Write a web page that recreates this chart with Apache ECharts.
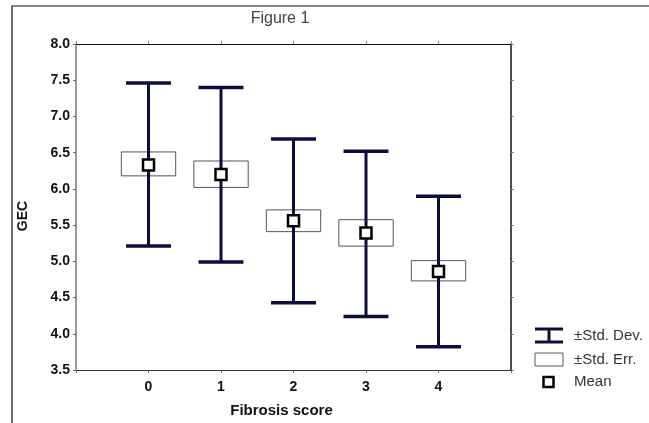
<!DOCTYPE html>
<html>
<head>
<meta charset="utf-8">
<script src="https://cdn.jsdelivr.net/npm/echarts@6/dist/echarts.min.js"></script>
<style>html,body{margin:0;padding:0;background:#fff;}#c{width:649px;height:423px;}</style>
</head>
<body>
<div id="c"></div>
<script>
var categories = [0, 1, 2, 3, 4];
var means  = [6.33, 6.20, 5.56, 5.39, 4.86];
var seLow  = [6.18, 6.02, 5.41, 5.21, 4.73];
var seHigh = [6.51, 6.385, 5.71, 5.575, 5.01];
var sdLow  = [5.21, 4.99, 4.43, 4.24, 3.82];
var sdHigh = [7.46, 7.40, 6.69, 6.52, 5.90];
var yTicks = [3.5, 4.0, 4.5, 5.0, 5.5, 6.0, 6.5, 7.0, 7.5, 8.0];

var FONT = 'Liberation Sans, Arial, sans-serif';
var NAVY = '#0d0d3d';

var data = categories.map(function (c, i) {
  return [c, means[i], seLow[i], seHigh[i], sdLow[i], sdHigh[i]];
});

function renderItem(params, api) {
  var x = api.value(0);
  var pM = api.coord([x, api.value(1)]);
  var pSeL = api.coord([x, api.value(2)]);
  var pSeH = api.coord([x, api.value(3)]);
  var pSdL = api.coord([x, api.value(4)]);
  var pSdH = api.coord([x, api.value(5)]);
  var boxHalf = api.size([0.375, 0])[0];
  var capHalf = api.size([0.31, 0])[0];
  var sq = 11;
  return {
    type: 'group',
    children: [
      { type: 'rect', shape: { x: pM[0] - boxHalf, y: pSeH[1], width: boxHalf * 2, height: pSeL[1] - pSeH[1] },
        style: { fill: '#fff', stroke: '#555', lineWidth: 1 } },
      { type: 'line', shape: { x1: pM[0], y1: pSdH[1], x2: pM[0], y2: pSdL[1] },
        style: { stroke: NAVY, lineWidth: 3 } },
      { type: 'line', shape: { x1: pM[0] - capHalf, y1: pSdH[1], x2: pM[0] + capHalf, y2: pSdH[1] },
        style: { stroke: NAVY, lineWidth: 3.5 } },
      { type: 'line', shape: { x1: pM[0] - capHalf, y1: pSdL[1], x2: pM[0] + capHalf, y2: pSdL[1] },
        style: { stroke: NAVY, lineWidth: 3.5 } },
      { type: 'rect', shape: { x: pM[0] - sq / 2, y: pM[1] - sq / 2, width: sq, height: sq },
        style: { fill: '#fff', stroke: '#000', lineWidth: 2.5 } }
    ]
  };
}

var chart = echarts.init(document.getElementById('c'));
chart.setOption({
  animation: false,
  backgroundColor: '#fff',
  grid: { left: 76, right: 138, top: 44, bottom: 53, containLabel: false },
  xAxis: [{
    type: 'value', min: -1, max: 5, interval: 1,
    name: 'Fibrosis score', nameLocation: 'middle', nameGap: 33,
    nameTextStyle: { fontFamily: FONT, fontSize: 15, fontWeight: 'bold', color: '#111', padding: [0, 24, 0, 0] },
    axisLine: { onZero: false, lineStyle: { color: '#333', width: 1 } },
    axisTick: { show: true, length: 3, lineStyle: { color: '#666' } },
    splitLine: { show: false },
    axisLabel: {
      margin: 10, fontFamily: FONT, fontSize: 14, fontWeight: 'bold', color: '#111',
      formatter: function (v) { return categories.indexOf(v) >= 0 ? String(v) : ''; }
    }
  }, {
    type: 'value', position: 'top', min: -1, max: 5, interval: 1,
    axisLine: { onZero: false, lineStyle: { color: '#111', width: 1 } },
    axisTick: { show: true, length: 3, lineStyle: { color: '#888' } },
    axisLabel: { show: false }, splitLine: { show: false }
  }],
  yAxis: [{
    type: 'value', min: yTicks[0], max: yTicks[yTicks.length - 1], interval: 0.5,
    name: 'GEC', nameLocation: 'middle', nameGap: 46, nameRotate: 90,
    nameTextStyle: { fontFamily: FONT, fontSize: 14, fontWeight: 'bold', color: '#111', padding: [0, 0, 0, -18] },
    axisLine: { show: true, onZero: false, lineStyle: { color: '#777', width: 1.5 } },
    axisTick: { show: true, length: 3, lineStyle: { color: '#666' } },
    splitLine: { show: false },
    axisLabel: {
      margin: 6, fontFamily: FONT, fontSize: 14, fontWeight: 'bold', color: '#111',
      formatter: function (v) { return v.toFixed(1); }
    }
  }, {
    type: 'value', position: 'right', min: yTicks[0], max: yTicks[yTicks.length - 1], interval: 0.5,
    axisLine: { show: true, onZero: false, lineStyle: { color: '#111', width: 1.5 } },
    axisTick: { show: true, length: 3, lineStyle: { color: '#888' } },
    axisLabel: { show: false }, splitLine: { show: false }
  }],
  series: [{
    type: 'custom',
    renderItem: renderItem,
    encode: { x: 0, y: [1, 2, 3, 4, 5] },
    data: data,
    clip: false
  }],
  graphic: [
    { type: 'rect', silent: true, shape: { x: 12, y: 6, width: 700, height: 500 },
      style: { fill: 'none', stroke: '#111', lineWidth: 1.2 } },
    { type: 'text', x: 280, y: 19, style: { text: 'Figure 1', fontFamily: FONT, fontSize: 16, fill: '#444', align: 'center', verticalAlign: 'middle' } },
    // legend: Std. Dev.
    { type: 'line', shape: { x1: 535, y1: 329, x2: 563, y2: 329 }, style: { stroke: NAVY, lineWidth: 3 } },
    { type: 'line', shape: { x1: 535, y1: 342, x2: 563, y2: 342 }, style: { stroke: NAVY, lineWidth: 3 } },
    { type: 'line', shape: { x1: 549, y1: 329, x2: 549, y2: 342 }, style: { stroke: NAVY, lineWidth: 3 } },
    { type: 'text', x: 574, y: 336, style: { text: '±Std. Dev.', fontFamily: FONT, fontSize: 15, fill: '#333', verticalAlign: 'middle' } },
    // legend: Std. Err.
    { type: 'rect', shape: { x: 535, y: 353, width: 28, height: 13 }, style: { fill: '#fff', stroke: '#555', lineWidth: 1 } },
    { type: 'text', x: 574, y: 360, style: { text: '±Std. Err.', fontFamily: FONT, fontSize: 15, fill: '#333', verticalAlign: 'middle' } },
    // legend: Mean
    { type: 'rect', shape: { x: 543.5, y: 377, width: 10, height: 10 }, style: { fill: '#fff', stroke: '#000', lineWidth: 2.5 } },
    { type: 'text', x: 574, y: 382, style: { text: 'Mean', fontFamily: FONT, fontSize: 15, fill: '#333', verticalAlign: 'middle' } }
  ]
});
</script>
</body>
</html>
